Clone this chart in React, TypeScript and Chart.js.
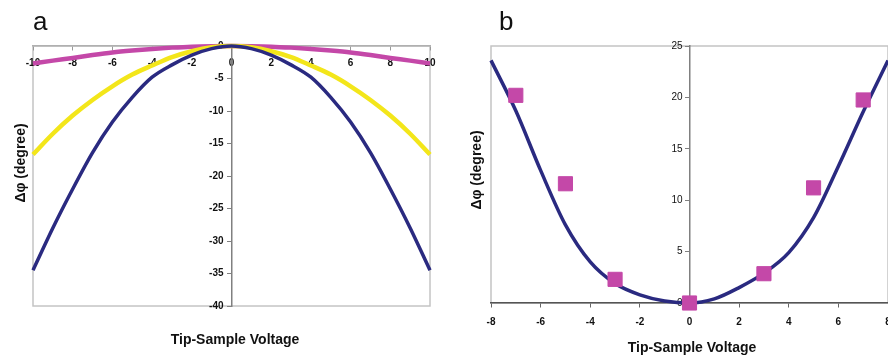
import React, { useEffect, useRef } from "react";
import { Chart, registerables } from "chart.js";

Chart.register(...registerables);

// ---------- Panel a data ----------
const voltageA = [-10, -9, -8, -7, -6, -5, -4, -3, -2, -1, 0, 1, 2, 3, 4, 5, 6, 7, 8, 9, 10];
const shiftBlueA = [-34.5, -28.0, -22.0, -16.4, -11.7, -7.9, -4.8, -2.9, -1.4, -0.4, 0, -0.4, -1.4, -2.9, -4.8, -7.9, -11.7, -16.4, -22.0, -28.0, -34.5];
const shiftYellowA = [-16.7, -13.5, -10.7, -8.3, -6.2, -4.4, -3.0, -1.7, -0.8, -0.2, 0, -0.2, -0.8, -1.7, -3.0, -4.4, -6.2, -8.3, -10.7, -13.5, -16.7];
const shiftPinkA = [-2.7, -2.25, -1.85, -1.4, -1.0, -0.7, -0.45, -0.25, -0.1, -0.03, 0, -0.03, -0.1, -0.25, -0.45, -0.7, -1.0, -1.4, -1.85, -2.25, -2.7];

// ---------- Panel b data ----------
const voltageB = [-8, -7, -6, -5, -4, -3, -2, -1, 0, 1, 2, 3, 4, 5, 6, 7, 8];
const fitB = [23.6, 18.7, 12.9, 7.6, 4.0, 1.9, 0.8, 0.2, 0, 0.4, 1.5, 2.9, 4.9, 8.3, 13.3, 18.6, 23.6];
const measuredVoltage = [-7, -5, -3, 0, 3, 5, 7];
const measuredShift = [20.2, 11.6, 2.3, 0, 2.85, 11.2, 19.75];

const titleY = "Δφ (degree)";
const titleX = "Tip-Sample Voltage";

const BLUE = "#2a2a80";
const YELLOW = "#f3e61a";
const PINK = "#c448a8";
const FONT = "'Liberation Sans', Arial, sans-serif";
const NARROW = "'Liberation Sans Narrow', 'Liberation Sans', Arial, sans-serif";

const pts = (xs: number[], ys: number[]) => xs.map((x, i) => ({ x, y: ys[i] }));

const framePlugin = {
  id: "frame",
  beforeDraw(chart: any, _args: any, opts: any) {
    const { ctx, chartArea } = chart;
    const { left, top, right, bottom } = chartArea;
    ctx.save();
    ctx.strokeStyle = opts.color || "#bbb";
    ctx.lineWidth = opts.width || 1.5;
    ctx.strokeRect(left, top, right - left, bottom - top);
    ctx.restore();
  },
};

const zeroPad = (s: any) => {
  s.paddingLeft = 0;
  s.paddingRight = 0;
};

function makeA(canvas: HTMLCanvasElement) {
  return new Chart(canvas, {
    type: "scatter",
    data: {
      datasets: [
        { data: pts(voltageA, shiftBlueA), showLine: true, borderColor: BLUE, borderWidth: 3.5, pointRadius: 0, cubicInterpolationMode: "monotone", clip: false },
        { data: pts(voltageA, shiftYellowA), showLine: true, borderColor: YELLOW, borderWidth: 4.5, pointRadius: 0, cubicInterpolationMode: "monotone", clip: false },
        { data: pts(voltageA, shiftPinkA), showLine: true, borderColor: PINK, borderWidth: 4.5, pointRadius: 0, cubicInterpolationMode: "monotone", clip: false },
      ],
    } as any,
    options: {
      animation: false,
      responsive: false,
      layout: { autoPadding: false, padding: { left: 33, right: 14, top: 46, bottom: 49 } },
      plugins: { legend: { display: false }, tooltip: { enabled: false }, frame: { color: "#c4c4c4", width: 1.5 } } as any,
      scales: {
        x: {
          type: "linear", min: -10, max: 10, position: { y: 0 } as any,
          afterFit: zeroPad,
          ticks: { stepSize: 2, autoSkip: false, maxRotation: 0, padding: 7, color: "#111", font: { family: FONT, size: 10, weight: "bold" } },
          grid: { drawOnChartArea: false, tickLength: 4, color: "#999" },
          border: { color: "#b0b0b0", width: 1.5 },
        },
        y: {
          type: "linear", min: -40, max: 0, position: "center",
          ticks: { stepSize: 5, autoSkip: false, padding: 4, color: "#111", font: { family: FONT, size: 10, weight: "bold" } },
          grid: { drawOnChartArea: false, tickLength: 4, color: "#808080" },
          border: { color: "#808080", width: 1.5 },
        },
      },
    } as any,
    plugins: [framePlugin],
  });
}

function makeB(canvas: HTMLCanvasElement) {
  return new Chart(canvas, {
    type: "scatter",
    data: {
      datasets: [
        { data: pts(measuredVoltage, measuredShift), pointStyle: "rect", pointRadius: 10, borderWidth: 1, backgroundColor: PINK, borderColor: PINK, clip: false },
        { data: pts(voltageB, fitB), showLine: true, borderColor: BLUE, borderWidth: 3.5, pointRadius: 0, cubicInterpolationMode: "monotone", clip: false },
      ],
    } as any,
    options: {
      animation: false,
      responsive: false,
      layout: { autoPadding: false, padding: { left: 47, right: 0, top: 46, bottom: 52 } },
      plugins: { legend: { display: false }, tooltip: { enabled: false }, frame: { color: "#c4c4c4", width: 1.5 } } as any,
      scales: {
        x: {
          type: "linear", min: -8, max: 8, position: { y: 0 } as any,
          afterFit: zeroPad,
          ticks: { stepSize: 2, autoSkip: false, maxRotation: 0, padding: 9, color: "#111", font: { family: FONT, size: 10, weight: "bold" } },
          grid: { drawOnChartArea: false, tickLength: 4, color: "#666" },
          border: { color: "#555", width: 1.5 },
        },
        y: {
          type: "linear", min: 0, max: 25, position: "center",
          ticks: { stepSize: 5, autoSkip: false, padding: 3, color: "#111", font: { family: NARROW, size: 10 } },
          grid: { drawOnChartArea: false, tickLength: 4, color: "#808080" },
          border: { color: "#808080", width: 1.5 },
        },
      },
    } as any,
    plugins: [framePlugin],
  });
}

const textBase: React.CSSProperties = {
  position: "absolute",
  fontFamily: FONT,
  whiteSpace: "nowrap",
  lineHeight: 1,
  color: "#111",
};

export default function App() {
  const refA = useRef<HTMLCanvasElement>(null);
  const refB = useRef<HTMLCanvasElement>(null);

  useEffect(() => {
    const a = makeA(refA.current!);
    const b = makeB(refB.current!);
    return () => {
      a.destroy();
      b.destroy();
    };
  }, []);

  const axisTitle: React.CSSProperties = { ...textBase, fontSize: 14, fontWeight: "bold" };

  return (
    <div style={{ position: "fixed", left: 0, top: 0, width: 888, height: 355, background: "#fff", overflow: "hidden" }}>
      <canvas ref={refA} width={444} height={355} style={{ position: "absolute", left: 0, top: 0, width: 444, height: 355 }} />
      <canvas ref={refB} width={444} height={355} style={{ position: "absolute", left: 444, top: 0, width: 444, height: 355 }} />
      <div style={{ ...textBase, fontSize: 26, left: 33, top: 8 }}>a</div>
      <div style={{ ...textBase, fontSize: 26, left: 499, top: 8 }}>b</div>
      <div style={{ ...axisTitle, left: 20, top: 163, transform: "translate(-50%, -50%) rotate(-90deg)" }}>{titleY}</div>
      <div style={{ ...axisTitle, left: 476, top: 170, transform: "translate(-50%, -50%) rotate(-90deg)" }}>{titleY}</div>
      <div style={{ ...axisTitle, left: 235, top: 339, transform: "translate(-50%, -50%)" }}>{titleX}</div>
      <div style={{ ...axisTitle, left: 692, top: 347, transform: "translate(-50%, -50%)" }}>{titleX}</div>
    </div>
  );
}
